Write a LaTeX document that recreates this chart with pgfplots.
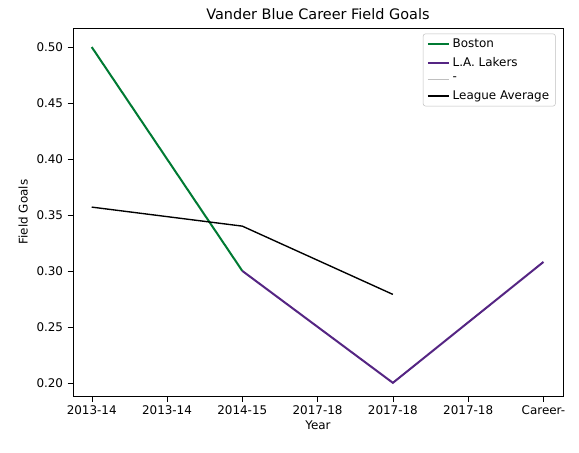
\documentclass[border=0pt]{standalone}
\usepackage{pgfplots}
\pgfplotsset{compat=1.18}
\usepackage{fontspec}
\setmainfont{DejaVu Sans}
\begin{document}
\begin{tikzpicture}
\useasboundingbox (-58pt,-45pt) rectangle (402.7pt,315.3pt);
\begin{axis}[at={(0,0)},anchor=south west,scale only axis,width=390pt,height=293pt,
xmin=-0.25,xmax=6.26,ymin=0.188,ymax=0.517,
xtick={0,1,2,3,4,5,6},xticklabels={2013-14,2013-14,2014-15,2017-18,2017-18,2017-18,Career-},
ytick={0.20,0.25,0.30,0.35,0.40,0.45,0.50},
yticklabel style={/pgf/number format/.cd,fixed,fixed zerofill,precision=2},
/pgf/number format/assume math mode=true,
tick style={black},tick align=outside,xtick pos=bottom,ytick pos=left,
xlabel={Year},ylabel={Field Goals},title={Vander Blue Career Field Goals},
font=\fontsize{9.5}{11}\selectfont, title style={font=\fontsize{11.5}{13}\selectfont,yshift=-3pt},
xlabel style={yshift=2pt},
legend style={at={(0.985,0.985)},anchor=north east,font=\fontsize{9.5}{11}\selectfont,cells={anchor=west},draw=gray!50,rounded corners=2pt,row sep=2.5pt},
legend image post style={line width=1.5pt},
legend cell align=left]
\addplot[color={rgb,255:red,0;green,122;blue,51},line width=1.6pt] coordinates {(0,0.50)(2,0.30)};
\addlegendentry{Boston}
\addplot[color={rgb,255:red,85;green,37;blue,131},line width=1.6pt] coordinates {(2,0.30)(4,0.20)(6,0.308)};
\addlegendentry{L.A. Lakers}
\addlegendimage{color=gray!50,line width=1.5pt}
\addlegendentry{-}
\addplot[black,line width=1.1pt] coordinates {(0,0.357)(2,0.340)(4,0.279)};
\addlegendentry{League Average}
\end{axis}
\end{tikzpicture}
\end{document}
